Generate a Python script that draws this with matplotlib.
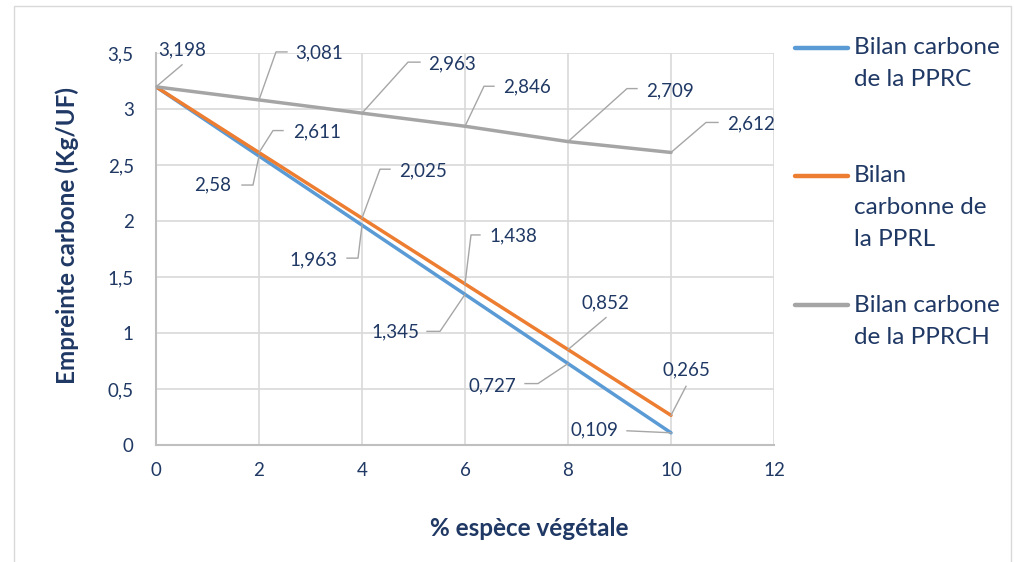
import matplotlib
matplotlib.use("Agg")
import matplotlib.pyplot as plt
from matplotlib.lines import Line2D
from matplotlib.patches import Rectangle
from matplotlib.transforms import IdentityTransform

plt.rcParams['font.family'] = ['Lato', 'DejaVu Sans']

# ---------------- data ----------------
x_pct = [0, 2, 4, 6, 8, 10]
pprc = [3.198, 2.58, 1.963, 1.345, 0.727, 0.109]
pprl = [3.198, 2.611, 2.025, 1.438, 0.852, 0.265]
pprch = [3.198, 3.081, 2.963, 2.846, 2.709, 2.612]
series_names = ["Bilan carbone\nde la PPRC", "Bilan\ncarbonne de\nla PPRL", "Bilan carbone\nde la PPRCH"]
x_ticks = [0, 2, 4, 6, 8, 10, 12]
y_ticks = [0, 0.5, 1, 1.5, 2, 2.5, 3, 3.5]
y_tick_labels = ["0", "0,5", "1", "1,5", "2", "2,5", "3", "3,5"]
x_title = "% espèce végétale"
y_title = "Empreinte carbone (Kg/UF)"

# ---------------- style ----------------
W, H = 1014, 562
TXT = '#1F3864'
colors = ['#5B9BD5', '#ED7D31', '#A5A5A5']
LEAD = '#A6A6A6'

fig = plt.figure(figsize=(W / 100, H / 100), dpi=100)
fig.patch.set_facecolor('white')

L, R, T, B = 156, 774, 53, 445
ax = fig.add_axes([L / W, 1 - B / H, (R - L) / W, (B - T) / H])
ax.set_xlim(0, 12)
ax.set_ylim(0, 3.5)
ax.set_xticks(x_ticks)
ax.set_xticklabels([str(t) for t in x_ticks])
ax.set_yticks(y_ticks)
ax.set_yticklabels(y_tick_labels)
ax.tick_params(axis='both', length=0, labelsize=13.5, colors=TXT)
ax.tick_params(axis='y', pad=16)
ax.tick_params(axis='x', pad=12)
ax.grid(True, color='#D9D9D9', linewidth=1.2)
ax.set_axisbelow(True)
for s in ['top', 'right']:
    ax.spines[s].set_visible(False)
for s in ['left', 'bottom']:
    ax.spines[s].set_color('#BFBFBF')
    ax.spines[s].set_linewidth(1.5)

all_series = [pprc, pprl, pprch]
for vals, c in zip(all_series, colors):
    ax.plot(x_pct, vals, color=c, linewidth=2.5, solid_capstyle='round', zorder=3)

# data labels: (text offset, leader offsets) in pixels relative to point (y down)
label_layout = [
    # PPRC (blue)
    [None,
     ((-46, 29), [(-6, 29), (-17, 29)]),
     ((-49, 35), [(-4, 33), (-15, 33)]),
     ((-70, 38), [(-25, 37), (-38, 37)]),
     ((-76, 22), [(-30, 20), (-43, 20)]),
     ((-77, -3), [(-44, -2)])],
    # PPRL (orange)
    [None,
     ((58, -21), [(14, -22), (24, -22)]),
     ((61, -47), [(18, -49), (28, -49)]),
     ((48, -48), [(6, -49), (15, -49)]),
     ((37, -47), [(38, -32)]),
     ((15, -45), [(15, -29)])],
    # PPRCH (gray)
    [((26, -37), [(26, -22)]),
     ((60, -47), [(17, -48), (28, -48)]),
     ((90, -49), [(46, -51), (58, -51)]),
     ((62, -39), [(19, -40), (29, -40)]),
     ((102, -51), [(59, -53), (69, -53)]),
     ((80, -29), [(35, -30), (47, -30)])],
]

fig.canvas.draw()
ident = IdentityTransform()
for vals, layout in zip(all_series, label_layout):
    for xv, yv, lay in zip(x_pct, vals, layout):
        if lay is None:
            continue
        (tdx, tdy), leader = lay
        px, py = ax.transData.transform((xv, yv))
        xs = [px] + [px + dx for dx, dy in leader]
        ys = [py] + [py - dy for dx, dy in leader]
        fig.add_artist(Line2D(xs, ys, transform=ident, color=LEAD, linewidth=1.0, zorder=5))
        txt = f"{yv:.3f}".rstrip('0').replace('.', ',')
        fig.text(px + tdx, py - tdy, txt, transform=ident, ha='center', va='center',
                 fontsize=13.5, color=TXT, zorder=6)

# axis titles
fig.text(67 / W, 1 - 236 / H, y_title, rotation=90, ha='center', va='center',
         fontsize=17.5, fontweight='bold', color=TXT)
fig.text(529 / W, 1 - 528 / H, x_title, ha='center', va='center',
         fontsize=17.5, fontweight='bold', color=TXT)

# legend (manual, Excel-like: handle aligned with first text line)
legend_first_y = [48, 176, 305]
line_step = 32
for name, c, y0 in zip(series_names, colors, legend_first_y):
    fig.add_artist(Line2D([795 / W, 848 / W], [1 - y0 / H, 1 - y0 / H],
                          color=c, linewidth=3.2, solid_capstyle='round'))
    for k, part in enumerate(name.split('\n')):
        fig.text(854 / W, 1 - (y0 + k * line_step) / H, part, ha='left', va='center',
                 fontsize=17.5, color=TXT)

# chart border
fig.add_artist(Rectangle((13.5 / W, -0.05), (1011 - 13.5) / W, 1.05 - 6 / H,
                         transform=fig.transFigure, fill=False,
                         edgecolor='#D9D9D9', linewidth=1.0))

fig.savefig('out.png', dpi=100)
